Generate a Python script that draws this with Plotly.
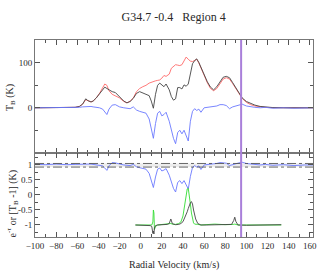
import plotly.graph_objects as go

# ---------------- data ----------------
v_top = [-100, -90, -80, -70, -62, -58, -55, -52, -50, -47, -45, -42, -39, -36, -34, -32, -30, -27, -24, -20,
         -16, -13, -10, -7, -4, -1, 2, 5, 8, 10, 12, 14, 16, 18, 20, 22, 24, 27, 29, 31,
         33, 35, 37, 39, 41, 43, 45, 47, 49, 51, 53, 55, 57, 60, 63, 66, 69, 72, 75, 78,
         81, 84, 87, 90, 93, 96, 100, 104, 108, 113, 118, 125, 135, 145, 155, 163]

t_on = [0, 0, 0, 0, 1, 3, 8, 20, 16, 13, 15, 22, 32, 42, 46, 43, 40, 36, 34, 24,
        15, 11, 14, 21, 32, 36, 33, 30, 27, 15, -1, 30, 50, 55, 50, 47, 53, 40, 25, 17,
        20, 45, 45, 42, 51, 48, 53, 75, 98, 105, 109, 101, 90, 72, 58, 46, 40, 47, 58, 68,
        70, 67, 56, 44, 31, 22, 14, 10, 6, 3, 1.5, 0.5, 0, 0, 0, 0]

t_off = [0, 0, 0, 0, 1, 3, 8, 18, 16, 13, 15, 22, 32, 45, 53, 50, 38, 30, 27, 22,
         14, 11, 15, 22, 36, 43, 47, 50, 55, 57, 58, 60, 61, 62, 66, 72, 70, 75, 88, 92,
         96, 95, 94, 96, 105, 113, 108, 104, 103, 106, 108, 100, 88, 70, 56, 43, 38, 43, 55, 64,
         67, 64, 54, 43, 31, 21, 12, 7, 4, 2, 1, 0.3, 0, 0, 0, 0]

t_diff = [0, 0, 0, 0, 0, 1, 2, 3, 2, 3, 2, 1, 0, -3, -8, -15, -3, 6, 7, 2,
          0, -1, -2, 2, -5, -8, -10, -12, -25, -45, -68, -35, -12, -8, -18, -15, -10, -30, -50, -68,
          -80, -55, -50, -58, -50, -62, -74, -30, -8, -2, -6, -3, -10, 0, 1, 2, 3, 4, 7, 7,
          5, -2, 2, 4, 7, 8, 4, 2, 1, 0, 1, -1, 0, -1, 0, 0]

emtau = [1.02, 1.01, 1.03, 1.01, 1.02, 1.03, 1.02, 1.04, 1.03, 1.03, 1.02, 1.02, 1.0, 0.97, 0.9, 0.82, 0.97, 1.08, 1.07, 1.03,
         1.0, 0.99, 0.98, 1.02, 0.94, 0.91, 0.88, 0.86, 0.72, 0.48, 0.25, 0.6, 0.86, 0.9, 0.8, 0.83, 0.88, 0.66, 0.45, 0.22,
         0.1, 0.42, 0.48, 0.38, 0.48, 0.32, 0.2, 0.62, 0.92, 0.98, 0.93, 0.97, 0.85, 1.0, 1.02, 1.03, 1.04, 1.05, 1.08, 1.07,
         1.06, 0.98, 1.02, 1.04, 1.07, 1.09, 1.05, 1.03, 1.02, 1.0, 1.02, 0.99, 1.01, 0.98, 1.0, 1.0]

v_abs = [-5, 0, 5, 9, 10.5, 11.5, 12, 12.5, 13, 14, 16, 20, 25, 27, 28.5, 30, 33, 36, 38, 40,
         42, 43, 44, 45, 46, 47, 48, 49, 50, 51, 52, 54, 57, 62, 70, 80, 86, 88, 89, 90,
         92, 100, 110, 120, 133]

abs_black = [-1.0, -1.01, -1.0, -1.02, -1.05, -1.28, -1.2, -1.3, -1.1, -1.02, -1.0, -1.0, -0.98, -0.95, -0.8, -0.96, -0.99, -0.98, -0.95, -0.89,
             -0.75, -0.65, -0.56, -0.45, -0.33, -0.26, -0.22, -0.3, -0.5, -0.65, -0.8, -0.95, -1.0, -1.0, -0.99, -1.0, -0.98, -0.85, -0.74, -0.88,
             -1.0, -1.01, -1.0, -1.0, -0.99]

abs_green = [-1.0, -1.0, -1.0, -1.0, -1.0, -0.9, -0.5, -0.6, -1.15, -1.05, -1.0, -0.98, -0.97, -0.97, -0.95, -0.97, -0.98, -0.95, -0.9, -0.7,
             -0.3, -0.05, 0.2, 0.22, 0.0, -0.3, -0.6, -0.85, -0.93, -0.97, -0.98, -0.98, -1.0, -0.98, -0.97, -0.99, -1.0, -0.98, -0.97, -0.98,
             -1.0, -1.0, -1.0, -0.99, -1.0]

v_marker = 95
band_levels = [1.05, 0.93]

x_ticks = list(range(-100, 161, 20))
top_y_ticks = [0, 100]
bot_y_ticks = [-1, -0.5, 0, 0.5, 1]
bot_y_text = ["-1", "-0.5", "0", "0.5", "1"]

# ---------------- figure ----------------
FONT = "Liberation Serif"
TXT = "#2a2a2a"
fig = go.Figure()

lw = 0.9
fig.add_trace(go.Scatter(x=v_top, y=t_off, mode="lines", line=dict(color="#ff6a6a", width=lw), xaxis="x", yaxis="y"))
fig.add_trace(go.Scatter(x=v_top, y=t_on, mode="lines", line=dict(color="#444444", width=lw), xaxis="x", yaxis="y"))
fig.add_trace(go.Scatter(x=v_top, y=t_diff, mode="lines", line=dict(color="#6a78ff", width=lw), xaxis="x", yaxis="y"))

fig.add_trace(go.Scatter(x=v_top, y=emtau, mode="lines", line=dict(color="#6a78ff", width=lw), xaxis="x2", yaxis="y2"))
fig.add_trace(go.Scatter(x=v_abs, y=abs_green, mode="lines", line=dict(color="#33dd33", width=lw), xaxis="x2", yaxis="y2"))
fig.add_trace(go.Scatter(x=v_abs, y=abs_black, mode="lines", line=dict(color="#444444", width=lw), xaxis="x2", yaxis="y2"))

split = 0.428
axis_common = dict(showline=True, linecolor="#777777", linewidth=1, mirror="all", ticks="inside",
                   tickcolor="#555555", ticklen=5, showgrid=False, zeroline=False, automargin=False,
                   tickfont=dict(family=FONT, size=9, color=TXT))
minor_common = dict(ticklen=3, ticks="inside", tickcolor="#555555", showgrid=False)

fig.update_layout(
    width=334, height=275,
    margin=dict(l=35, r=21, t=40, b=38, autoexpand=False),
    paper_bgcolor="white", plot_bgcolor="white",
    showlegend=False,
    title=dict(text="G34.7 -0.4\u00a0\u00a0\u00a0Region 4", x=0.52, xanchor="center",
               yref="container", y=1 - 17 / 275, yanchor="middle", automargin=False,
               font=dict(family=FONT, size=12, color=TXT)),
    xaxis=dict(domain=[0, 1], range=[-100, 163], anchor="y", tickmode="array", tickvals=x_ticks,
               showticklabels=False, minor=dict(dtick=10, tick0=0, **minor_common), **axis_common),
    yaxis=dict(domain=[split, 1], range=[-100, 151], anchor="x", tickmode="array", tickvals=top_y_ticks,
               minor=dict(dtick=50, tick0=0, **minor_common), **axis_common),
    xaxis2=dict(domain=[0, 1], range=[-100, 163], anchor="y2", matches="x", tickmode="array", tickvals=x_ticks,
                minor=dict(dtick=10, tick0=0, **minor_common), **axis_common),
    yaxis2=dict(domain=[0, split], range=[-1.4, 1.41], anchor="x2", tickmode="array", tickvals=bot_y_ticks,
                ticktext=bot_y_text, minor=dict(dtick=0.25, tick0=0, **minor_common), **axis_common),
)

# band of dash-dot lines in the lower panel
fig.add_shape(type="rect", xref="x2", yref="y2", x0=-100, x1=163, y0=band_levels[1], y1=band_levels[0],
              fillcolor="#ececec", line=dict(width=0), layer="below")
for lev in band_levels:
    fig.add_shape(type="line", xref="x2", yref="y2", x0=-100, x1=163, y0=lev, y1=lev,
                  line=dict(color="#444444", width=0.8, dash="dashdot"))

# purple velocity marker through both panels
fig.add_shape(type="line", xref="x", yref="paper", x0=v_marker, x1=v_marker, y0=0, y1=1,
              line=dict(color="#a97fda", width=2))

fig.add_annotation(text="Radial Velocity (km/s)", xref="paper", yref="paper", x=0.5, y=-0.142,
                   showarrow=False, xanchor="center", yanchor="middle",
                   font=dict(family=FONT, size=10, color=TXT))
fig.add_annotation(text="T<sub>B</sub> (K)", xref="paper", yref="paper", x=-0.09, y=0.71, textangle=-90,
                   showarrow=False, xanchor="center", yanchor="middle",
                   font=dict(family=FONT, size=10, color=TXT))
fig.add_annotation(text="e<sup>-τ</sup> or [T<sub>B</sub> -1] (K)", xref="paper", yref="paper", x=-0.083, y=0.17,
                   textangle=-90, showarrow=False, xanchor="center", yanchor="middle",
                   font=dict(family=FONT, size=10, color=TXT))

fig.write_html("out.html", config={"displayModeBar": False},
               post_script="document.body.style.margin='0';document.body.style.padding='0';")
